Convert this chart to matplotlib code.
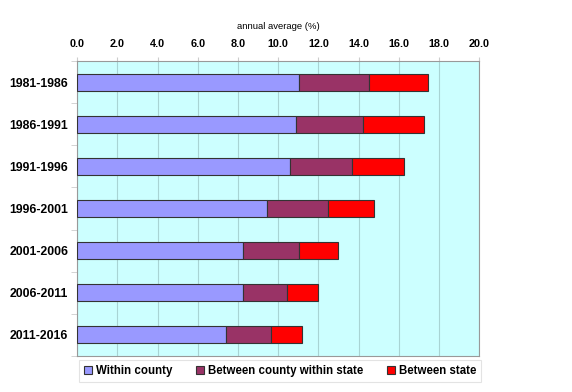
import matplotlib
matplotlib.use("Agg")
import matplotlib.pyplot as plt
import numpy as np

plt.rcParams['font.family'] = ['Liberation Sans', 'DejaVu Sans']

periods = ["1981-1986", "1986-1991", "1991-1996", "1996-2001",
           "2001-2006", "2006-2011", "2011-2016"]
within_county = [11.03, 10.88, 10.58, 9.45, 8.24, 8.23, 7.40]
between_county = [3.50, 3.35, 3.10, 3.04, 2.79, 2.19, 2.22]
between_state = [2.90, 3.00, 2.59, 2.29, 1.96, 1.57, 1.57]
series_names = ["Within county", "Between county within state", "Between state"]
colors = ["#9999ff", "#993366", "#ff0000"]

fig = plt.figure(figsize=(5.72, 3.92), dpi=100)
ax = fig.add_axes([0.135, 0.092, 0.703, 0.752])
ax.set_facecolor("#ccffff")

y = np.arange(len(periods))
left = np.zeros(len(periods))
for vals, name, c in zip([within_county, between_county, between_state], series_names, colors):
    ax.barh(y, vals, left=left, height=0.4, color=c, edgecolor="#333333",
            linewidth=0.8, label=name, zorder=3)
    left = left + np.array(vals)

ax.set_xlim(0, 20)
ax.set_ylim(len(periods) - 0.5, -0.5)
ax.xaxis.tick_top()
ax.xaxis.set_label_position("top")
ax.set_xticks(np.arange(0, 21, 2))
ax.set_xticklabels([f"{v:.1f}" for v in np.arange(0, 21, 2)], fontsize=7.8, fontweight="bold")
ax.set_xlabel("annual average (%)", fontsize=6.8, labelpad=7)
ax.set_yticks(y)
ax.set_yticklabels(periods, fontsize=8.8, fontweight="bold")
ax.set_yticks(np.arange(-0.5, len(periods)), minor=True)
ax.tick_params(axis="y", which="major", length=0, pad=6.5)
ax.tick_params(axis="y", which="minor", length=4, color="#cccccc")
ax.tick_params(axis="x", length=3, color="#cccccc", pad=6)
ax.grid(axis="x", color="#a8d4d4", linewidth=0.8, zorder=0)
for s in ax.spines.values():
    s.set_color("#999999")
    s.set_linewidth(0.8)

leg = fig.legend(loc="center", bbox_to_anchor=(0.49, 0.053), ncol=3,
                 prop={"weight": "bold", "size": 8.3}, frameon=True, fancybox=False,
                 handlelength=0.7, handleheight=0.7, handletextpad=0.3, columnspacing=2.1,
                 borderpad=0.45)
leg.get_frame().set_edgecolor("#dddddd")
leg.get_frame().set_linewidth(0.8)

fig.savefig("out.png", dpi=100)
